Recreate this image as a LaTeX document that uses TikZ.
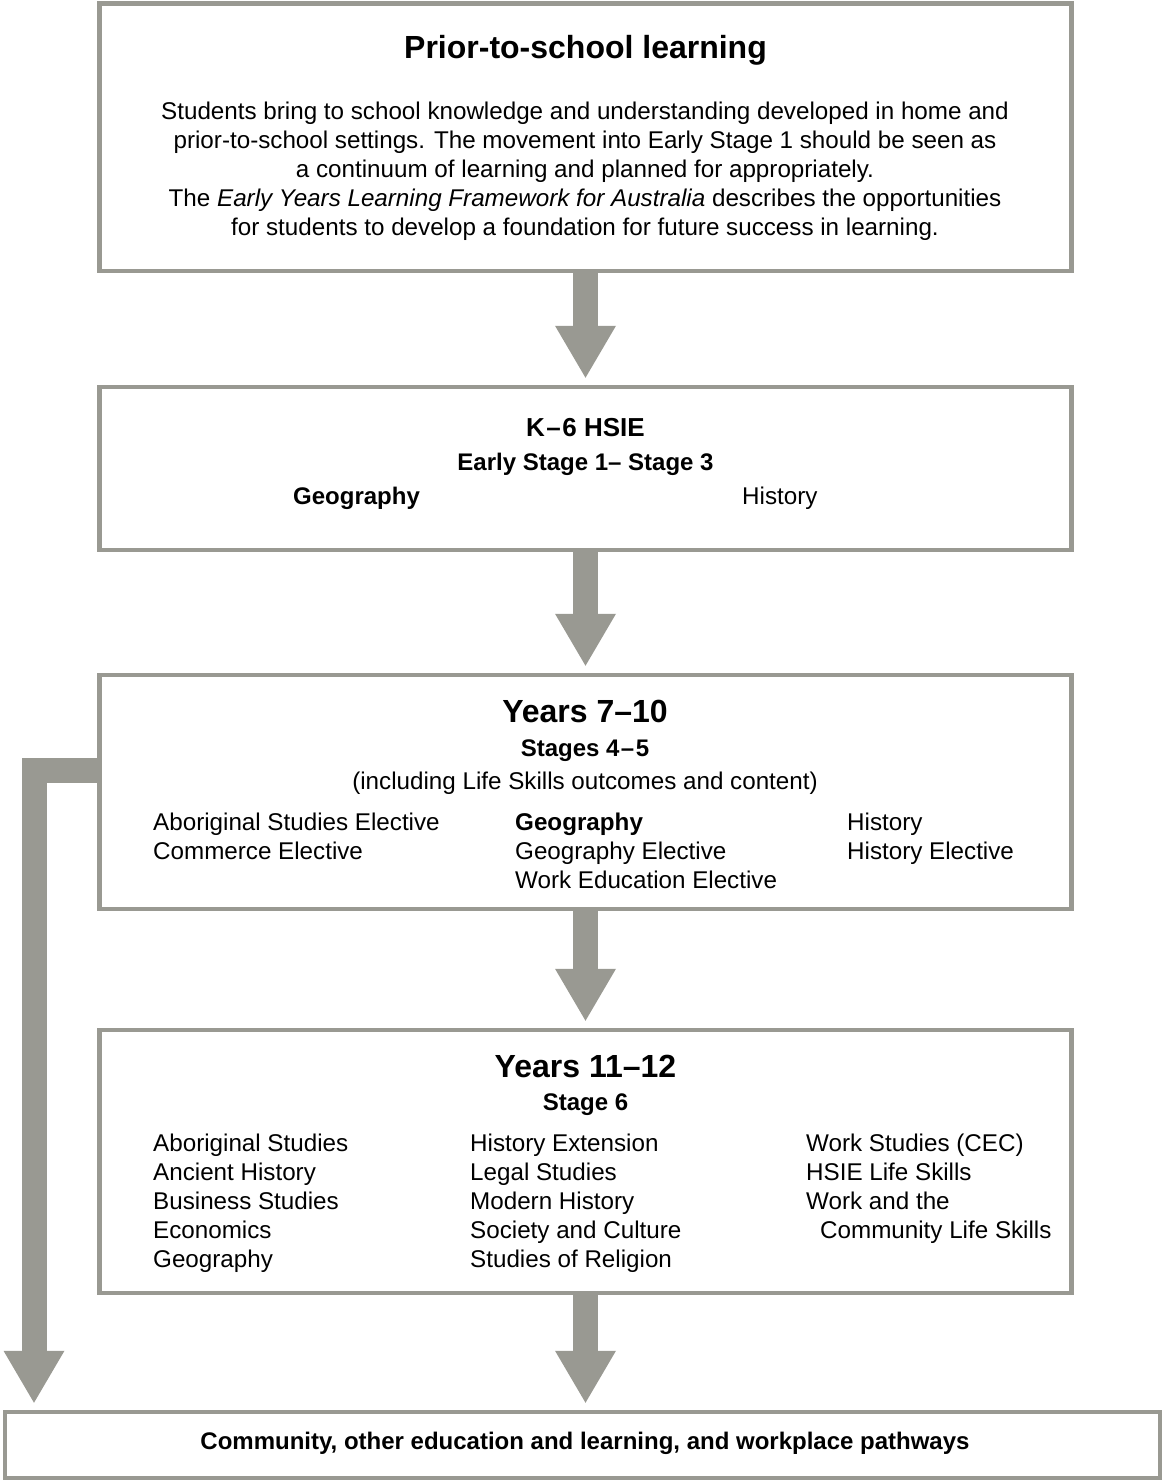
\documentclass[tikz,border=0pt]{standalone}
\usepackage{fontspec}
\setmainfont{Liberation Sans}
\usetikzlibrary{arrows.meta,positioning}
\definecolor{framegrey}{RGB}{153,153,146}

\begin{document}
\begin{tikzpicture}[x=1pt,y=-1pt,
    stagebox/.style={draw=framegrey,line width=4.5pt,minimum width=972pt,inner sep=0pt},
    flow/.style={color=framegrey,line width=25pt,-{Triangle[length=52pt,width=61pt,line width=0pt]},shorten >=7pt},
    txt/.style={inner sep=0pt,font=\fontsize{24.2}{29}\selectfont},
    boldtxt/.style={inner sep=0pt,font=\fontsize{24}{29}\selectfont\bfseries},
    bigtitle/.style={inner sep=0pt,anchor=base,font=\fontsize{32}{38}\selectfont\bfseries},
    col/.style={txt,anchor=north west,align=left}]
      \useasboundingbox (0,0) rectangle (1165,1483);
      % stage boxes
      \node[stagebox,minimum height=267.5pt] (prior) at (585.5,137) {};
      \node[stagebox,minimum height=163pt] (primary) at (585.5,468.5) {};
      \node[stagebox,minimum height=234pt] (midyears) at (585.5,792) {};
      \node[stagebox,minimum height=263pt] (senior) at (585.5,1161.5) {};
      \node[stagebox,minimum width=1155pt,minimum height=66pt] (pathways) at (582.5,1445) {};

      % prior-to-school
      \node[bigtitle] (priorhead) at (585.5,58.5) {Prior-to-school learning};
      \node[txt,anchor=north,align=center] (priortext) at (585,102)
        {Students bring to school knowledge and understanding developed in home and\\
         prior-to-school settings. The movement into Early Stage 1 should be seen as\\
         a continuum of learning and planned for appropriately.\\
         The \textit{Early Years Learning Framework for Australia} describes the opportunities\\
         for students to develop a foundation for future success in learning.};

      % K-6
      \node[boldtxt,anchor=base,font=\fontsize{26}{30}\selectfont\bfseries] (k6head) at (585.5,436.7) {K\kern1.5pt–\kern1.5pt6 HSIE};
      \node[boldtxt,anchor=base] (k6stages) at (585.5,470.6) {Early Stage 1– Stage 3};
      \node[boldtxt,anchor=base west] (k6geo) at (293,504.6) {Geography};
      \node[txt,anchor=base west] (k6hist) at (742,504.6) {History};

      % years 7-10
      \node[bigtitle] (midhead) at (585,722.5) {Years 7–10};
      \node[boldtxt,anchor=base] (midstages) at (585,756.6) {Stages 4\kern1.5pt–\kern1.5pt5};
      \node[txt,anchor=base] (midnote) at (585,789.6) {(including Life Skills outcomes and content)};
      \node[col] (midleft) at (153,813) {Aboriginal Studies Elective\\Commerce Elective};
      \node[col] (midcentre) at (515,813) {\textbf{Geography}\\Geography Elective\\Work Education Elective};
      \node[col] (midright) at (847,813) {History\\History Elective};

      % years 11-12
      \node[bigtitle] (seniorhead) at (585.5,1077) {Years 11–12};
      \node[boldtxt,anchor=base] (seniorstage) at (585.5,1110.6) {Stage 6};
      \node[col] (seniorleft) at (153,1134) {Aboriginal Studies\\Ancient History\\Business Studies\\Economics\\Geography};
      \node[col] (seniorcentre) at (470,1134) {History Extension\\Legal Studies\\Modern History\\Society and Culture\\Studies of Religion};
      \node[col] (seniorright) at (806,1134) {Work Studies (CEC)\\HSIE Life Skills\\Work and the\\\hspace*{14pt}Community Life Skills};

      \node[boldtxt,anchor=base] (pathtext) at (585,1449.6) {Community, other education and learning, and workplace pathways};

      % arrows
      \path[flow] (prior) edge[color=framegrey] (primary)
        (primary) edge[color=framegrey] (midyears)
        (midyears) edge[color=framegrey] (senior)
        (senior) edge[color=framegrey] (senior.south |- pathways.north);
      \coordinate (bend) at (34,770.5);
      \draw[flow] (midyears.west |- bend) -- (bend) -- (bend |- pathways.north);
    \end{tikzpicture}
\end{document}
